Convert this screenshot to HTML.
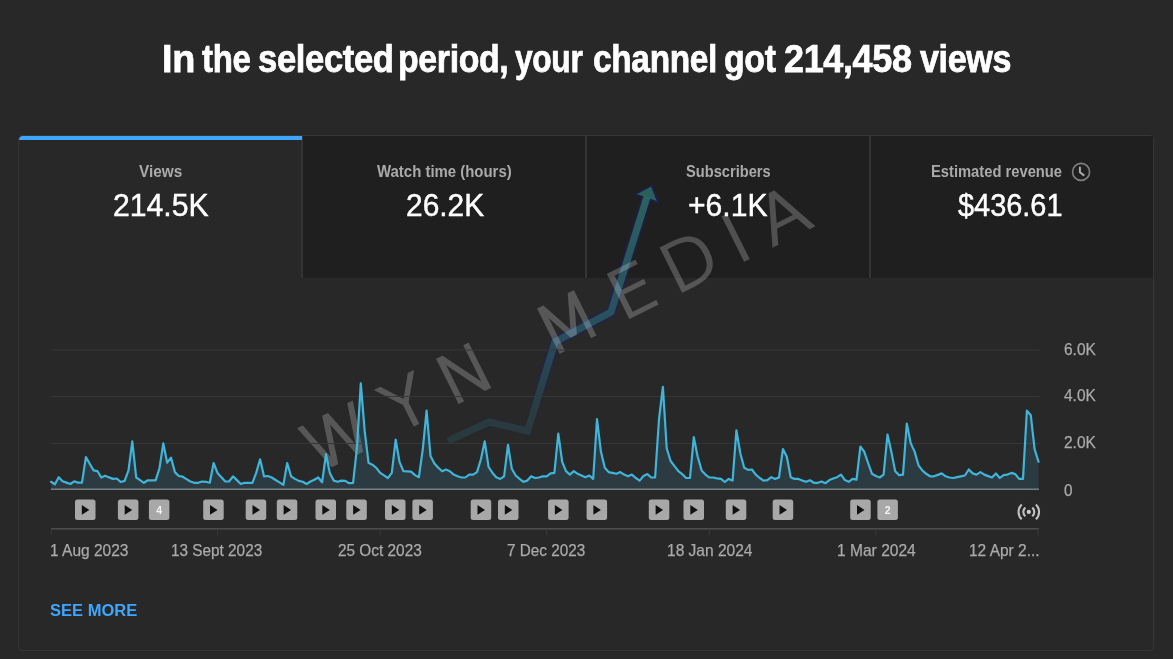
<!DOCTYPE html>
<html lang="en">
<head>
<meta charset="utf-8">
<title>Channel analytics</title>
<style>
html,body{margin:0;padding:0;}
h1{margin:0;padding:0;font-size:inherit;font-weight:inherit;}
body{width:1173px;height:659px;overflow:hidden;background:#282828;font-family:"Liberation Sans",sans-serif;position:relative;}
.card{position:absolute;left:17.8px;top:134.6px;width:1134px;height:514px;border:1.5px solid #363636;border-radius:4px;background:#282828;}
.tab{position:absolute;top:136px;height:142px;background:#1f1f1f;}
.tab.sel{background:#282828;}
.sep{position:absolute;top:136px;width:1.5px;height:142px;background:#343434;}
.bar{position:absolute;left:19px;top:135.5px;width:283px;height:4.3px;background:#3ea6ff;border-top-left-radius:4px;}
.t{position:absolute;white-space:nowrap;line-height:1;transform-origin:0 0;}
svg.chart,svg.wm{position:absolute;left:0;top:0;}
</style>
</head>
<body>
<div class="card"></div>
<div class="tab sel" style="left:19px;width:283px"></div>
<div class="tab" style="left:302px;width:284px"></div>
<div class="tab" style="left:586px;width:284px"></div>
<div class="tab" style="left:870px;width:283px"></div>
<div class="sep" style="left:301.45px"></div>
<div class="sep" style="left:585.4px"></div>
<div class="sep" style="left:869.35px"></div>
<div class="bar"></div>
<svg class="wm" width="1173" height="659" viewBox="0 0 1173 659">
<defs><linearGradient id="gn" gradientUnits="userSpaceOnUse" x1="0" y1="445" x2="0" y2="185"><stop offset="0" stop-color="#1f2258" stop-opacity="0.05"/><stop offset="0.12" stop-color="#1f2258" stop-opacity="0.15"/><stop offset="0.4" stop-color="#1f2258" stop-opacity="0.8"/><stop offset="1" stop-color="#1e1e58" stop-opacity="0.95"/></linearGradient><linearGradient id="gt" gradientUnits="userSpaceOnUse" x1="0" y1="445" x2="0" y2="185"><stop offset="0" stop-color="#2f7076" stop-opacity="0.28"/><stop offset="0.15" stop-color="#2f7074" stop-opacity="0.34"/><stop offset="0.45" stop-color="#2f7272" stop-opacity="0.62"/><stop offset="1" stop-color="#2f7a6c" stop-opacity="0.88"/></linearGradient></defs>
<g fill="none" stroke-linejoin="miter" stroke-linecap="butt" opacity="0.88"><path d="M448 441 L489 422 L527.6 431 L555 342 L611 312 L647 197" stroke="url(#gn)" stroke-width="10"/><path d="M635 194.2 L651.6 185.6 L658.2 202.6 L647.5 198.5 Z" fill="#2b6a60" stroke="#1e1e58" stroke-width="1.6" stroke-linejoin="miter"/><path d="M448 441 L489 422 L527.6 431 L555 342 L611 312 L647 197" stroke="url(#gt)" stroke-width="7"/></g>
<g transform="translate(347.7 458.1) rotate(-26.5)" fill="#fff" stroke="#fff" stroke-width="2.3" stroke-linejoin="miter" opacity="0.22" font-family="DejaVu Sans Light, DejaVu Sans, sans-serif" font-weight="200" font-size="66">
<text transform="scale(1.08 1)" x="0.00 70.65 132.04 184.91 237.78 305.00 363.98 412.50 461.39" y="0" text-anchor="middle" xml:space="preserve">WYN MEDIA</text>
</g></svg>
<svg class="chart" width="1173" height="659" viewBox="0 0 1173 659">
<rect x="51" y="349.5" width="988.5" height="1" fill="#373737"/>
<rect x="51" y="396.0" width="988.5" height="1" fill="#373737"/>
<rect x="51" y="443.0" width="988.5" height="1" fill="#373737"/>
<polygon points="51,489.5 51.0,481.8 54.9,484.3 58.7,477.2 62.6,481.3 66.5,482.6 70.4,484.0 74.2,481.3 78.1,482.6 82.0,482.6 85.9,457.1 89.7,463.8 93.6,470.4 97.5,471.2 101.3,477.5 105.2,475.8 109.1,477.4 113.0,478.9 116.8,478.5 120.7,482.0 124.6,480.9 128.5,470.4 132.3,441.4 136.2,477.5 140.1,480.1 143.9,482.8 147.8,480.3 151.7,480.3 155.6,480.3 159.4,468.7 163.3,443.4 167.2,462.7 171.0,457.6 174.9,472.1 178.8,476.0 182.7,476.7 186.5,479.1 190.4,481.5 194.3,482.8 198.2,482.8 202.0,481.5 205.9,481.8 209.8,482.8 213.6,463.0 217.5,472.9 221.4,477.2 225.3,481.5 229.1,481.5 233.0,476.3 236.9,480.1 240.8,484.0 244.6,482.8 248.5,482.8 252.4,482.8 256.2,472.9 260.1,459.3 264.0,476.3 267.9,476.0 271.7,477.5 275.6,480.0 279.5,482.4 283.4,484.9 287.2,463.0 291.1,476.3 295.0,478.9 298.8,480.9 302.7,481.8 306.6,484.0 310.5,481.5 314.3,479.7 318.2,477.5 322.1,482.3 326.0,454.2 329.8,472.9 333.7,480.6 337.6,481.8 341.4,480.6 345.3,480.9 349.2,483.2 353.1,482.8 356.9,448.2 360.8,383.4 364.7,431.2 368.5,462.7 372.4,464.7 376.3,467.8 380.2,472.9 384.0,475.4 387.9,478.0 391.8,472.9 395.7,439.7 399.5,461.8 403.4,471.2 407.3,471.4 411.1,471.7 415.0,475.1 418.9,477.2 422.8,449.1 426.6,410.7 430.5,455.9 434.4,463.5 438.3,467.8 442.1,471.2 446.0,469.5 449.9,471.2 453.7,474.6 457.6,476.3 461.5,477.5 465.4,477.5 469.2,474.6 473.1,474.6 477.0,472.1 480.9,459.3 484.7,441.4 488.6,467.0 492.5,472.9 496.3,477.2 500.2,478.9 504.1,476.3 508.0,444.8 511.8,468.7 515.7,475.5 519.6,478.9 523.5,481.8 527.3,480.6 531.2,476.3 535.1,478.0 538.9,477.5 542.8,476.3 546.7,476.3 550.6,473.4 554.4,472.9 558.3,433.7 562.2,461.8 566.0,471.2 569.9,474.6 573.8,471.2 577.7,473.8 581.5,475.5 585.4,477.2 589.3,475.5 593.2,478.9 597.0,419.2 600.9,451.6 604.8,467.8 608.6,472.1 612.5,472.9 616.4,473.8 620.3,472.1 624.1,474.6 628.0,476.3 631.9,474.6 635.8,478.0 639.6,480.6 643.5,476.0 647.4,474.1 651.2,477.5 655.1,477.5 659.0,419.2 662.9,386.8 666.7,448.2 670.6,461.0 674.5,466.1 678.4,471.2 682.2,474.1 686.1,478.0 690.0,478.0 693.8,437.1 697.7,456.7 701.6,470.4 705.5,474.6 709.3,477.5 713.2,477.5 717.1,478.4 721.0,478.9 724.8,482.0 728.7,478.9 732.6,480.6 736.4,430.3 740.3,453.3 744.2,467.8 748.1,469.9 751.9,469.5 755.8,474.6 759.7,478.0 763.5,480.6 767.4,480.1 771.3,477.2 775.2,478.9 779.0,477.5 782.9,449.1 786.8,456.7 790.7,477.2 794.5,478.9 798.4,478.9 802.3,480.6 806.1,481.8 810.0,480.3 813.9,482.8 817.8,482.8 821.6,481.5 825.5,483.2 829.4,480.1 833.3,478.5 837.1,477.2 841.0,474.6 844.9,480.1 848.7,481.8 852.6,478.9 856.5,479.7 860.4,446.5 864.2,451.6 868.1,463.0 872.0,473.8 875.9,476.0 879.7,477.5 883.6,474.6 887.5,434.6 891.3,451.6 895.2,471.2 899.1,475.1 903.0,474.6 906.8,423.5 910.7,443.1 914.6,451.6 918.5,465.3 922.3,470.4 926.2,473.8 930.1,476.3 933.9,476.3 937.8,474.9 941.7,473.4 945.6,476.3 949.4,477.5 953.3,478.0 957.2,477.1 961.0,476.3 964.9,475.5 968.8,469.5 972.7,473.4 976.5,474.6 980.4,472.1 984.3,474.6 988.2,476.1 992.0,477.5 995.9,473.4 999.8,478.0 1003.6,475.1 1007.5,474.6 1011.4,472.9 1015.3,474.1 1019.1,478.9 1023.0,478.9 1026.9,410.7 1030.8,415.3 1034.6,449.1 1038.5,461.8 1038.5,489.5" fill="#41b4d9" fill-opacity="0.14"/>
<polyline points="51.0,481.8 54.9,484.3 58.7,477.2 62.6,481.3 66.5,482.6 70.4,484.0 74.2,481.3 78.1,482.6 82.0,482.6 85.9,457.1 89.7,463.8 93.6,470.4 97.5,471.2 101.3,477.5 105.2,475.8 109.1,477.4 113.0,478.9 116.8,478.5 120.7,482.0 124.6,480.9 128.5,470.4 132.3,441.4 136.2,477.5 140.1,480.1 143.9,482.8 147.8,480.3 151.7,480.3 155.6,480.3 159.4,468.7 163.3,443.4 167.2,462.7 171.0,457.6 174.9,472.1 178.8,476.0 182.7,476.7 186.5,479.1 190.4,481.5 194.3,482.8 198.2,482.8 202.0,481.5 205.9,481.8 209.8,482.8 213.6,463.0 217.5,472.9 221.4,477.2 225.3,481.5 229.1,481.5 233.0,476.3 236.9,480.1 240.8,484.0 244.6,482.8 248.5,482.8 252.4,482.8 256.2,472.9 260.1,459.3 264.0,476.3 267.9,476.0 271.7,477.5 275.6,480.0 279.5,482.4 283.4,484.9 287.2,463.0 291.1,476.3 295.0,478.9 298.8,480.9 302.7,481.8 306.6,484.0 310.5,481.5 314.3,479.7 318.2,477.5 322.1,482.3 326.0,454.2 329.8,472.9 333.7,480.6 337.6,481.8 341.4,480.6 345.3,480.9 349.2,483.2 353.1,482.8 356.9,448.2 360.8,383.4 364.7,431.2 368.5,462.7 372.4,464.7 376.3,467.8 380.2,472.9 384.0,475.4 387.9,478.0 391.8,472.9 395.7,439.7 399.5,461.8 403.4,471.2 407.3,471.4 411.1,471.7 415.0,475.1 418.9,477.2 422.8,449.1 426.6,410.7 430.5,455.9 434.4,463.5 438.3,467.8 442.1,471.2 446.0,469.5 449.9,471.2 453.7,474.6 457.6,476.3 461.5,477.5 465.4,477.5 469.2,474.6 473.1,474.6 477.0,472.1 480.9,459.3 484.7,441.4 488.6,467.0 492.5,472.9 496.3,477.2 500.2,478.9 504.1,476.3 508.0,444.8 511.8,468.7 515.7,475.5 519.6,478.9 523.5,481.8 527.3,480.6 531.2,476.3 535.1,478.0 538.9,477.5 542.8,476.3 546.7,476.3 550.6,473.4 554.4,472.9 558.3,433.7 562.2,461.8 566.0,471.2 569.9,474.6 573.8,471.2 577.7,473.8 581.5,475.5 585.4,477.2 589.3,475.5 593.2,478.9 597.0,419.2 600.9,451.6 604.8,467.8 608.6,472.1 612.5,472.9 616.4,473.8 620.3,472.1 624.1,474.6 628.0,476.3 631.9,474.6 635.8,478.0 639.6,480.6 643.5,476.0 647.4,474.1 651.2,477.5 655.1,477.5 659.0,419.2 662.9,386.8 666.7,448.2 670.6,461.0 674.5,466.1 678.4,471.2 682.2,474.1 686.1,478.0 690.0,478.0 693.8,437.1 697.7,456.7 701.6,470.4 705.5,474.6 709.3,477.5 713.2,477.5 717.1,478.4 721.0,478.9 724.8,482.0 728.7,478.9 732.6,480.6 736.4,430.3 740.3,453.3 744.2,467.8 748.1,469.9 751.9,469.5 755.8,474.6 759.7,478.0 763.5,480.6 767.4,480.1 771.3,477.2 775.2,478.9 779.0,477.5 782.9,449.1 786.8,456.7 790.7,477.2 794.5,478.9 798.4,478.9 802.3,480.6 806.1,481.8 810.0,480.3 813.9,482.8 817.8,482.8 821.6,481.5 825.5,483.2 829.4,480.1 833.3,478.5 837.1,477.2 841.0,474.6 844.9,480.1 848.7,481.8 852.6,478.9 856.5,479.7 860.4,446.5 864.2,451.6 868.1,463.0 872.0,473.8 875.9,476.0 879.7,477.5 883.6,474.6 887.5,434.6 891.3,451.6 895.2,471.2 899.1,475.1 903.0,474.6 906.8,423.5 910.7,443.1 914.6,451.6 918.5,465.3 922.3,470.4 926.2,473.8 930.1,476.3 933.9,476.3 937.8,474.9 941.7,473.4 945.6,476.3 949.4,477.5 953.3,478.0 957.2,477.1 961.0,476.3 964.9,475.5 968.8,469.5 972.7,473.4 976.5,474.6 980.4,472.1 984.3,474.6 988.2,476.1 992.0,477.5 995.9,473.4 999.8,478.0 1003.6,475.1 1007.5,474.6 1011.4,472.9 1015.3,474.1 1019.1,478.9 1023.0,478.9 1026.9,410.7 1030.8,415.3 1034.6,449.1 1038.5,461.8" fill="none" stroke="#41b4d9" stroke-width="2.2" stroke-linejoin="round" stroke-linecap="round"/>
<rect x="51" y="488.6" width="988" height="1.2" fill="#8c9599"/>
<rect x="51" y="528" width="988" height="1.6" fill="#4d4d4d"/>
<rect x="50.5" y="529" width="1" height="6.5" fill="#383838"/>
<rect x="217.0" y="529" width="1" height="6.5" fill="#383838"/>
<rect x="379.7" y="529" width="1" height="6.5" fill="#383838"/>
<rect x="546.2" y="529" width="1" height="6.5" fill="#383838"/>
<rect x="708.8" y="529" width="1" height="6.5" fill="#383838"/>
<rect x="875.3" y="529" width="1" height="6.5" fill="#383838"/>
<rect x="1037.5" y="529" width="1" height="6.5" fill="#383838"/>
<rect x="75.0" y="499.5" width="20.5" height="20.5" rx="2.5" fill="#a8a8a8"/>
<path d="M81.8 505 L89.3 509.9 L81.8 514.8 Z" fill="#111"/>
<rect x="117.9" y="499.5" width="20.5" height="20.5" rx="2.5" fill="#a8a8a8"/>
<path d="M124.7 505 L132.2 509.9 L124.7 514.8 Z" fill="#111"/>
<rect x="203.2" y="499.5" width="20.5" height="20.5" rx="2.5" fill="#a8a8a8"/>
<path d="M210.0 505 L217.5 509.9 L210.0 514.8 Z" fill="#111"/>
<rect x="245.7" y="499.5" width="20.5" height="20.5" rx="2.5" fill="#a8a8a8"/>
<path d="M252.5 505 L260.0 509.9 L252.5 514.8 Z" fill="#111"/>
<rect x="276.8" y="499.5" width="20.5" height="20.5" rx="2.5" fill="#a8a8a8"/>
<path d="M283.6 505 L291.1 509.9 L283.6 514.8 Z" fill="#111"/>
<rect x="315.5" y="499.5" width="20.5" height="20.5" rx="2.5" fill="#a8a8a8"/>
<path d="M322.3 505 L329.8 509.9 L322.3 514.8 Z" fill="#111"/>
<rect x="346.3" y="499.5" width="20.5" height="20.5" rx="2.5" fill="#a8a8a8"/>
<path d="M353.1 505 L360.6 509.9 L353.1 514.8 Z" fill="#111"/>
<rect x="385" y="499.5" width="20.5" height="20.5" rx="2.5" fill="#a8a8a8"/>
<path d="M391.8 505 L399.3 509.9 L391.8 514.8 Z" fill="#111"/>
<rect x="412.4" y="499.5" width="20.5" height="20.5" rx="2.5" fill="#a8a8a8"/>
<path d="M419.2 505 L426.7 509.9 L419.2 514.8 Z" fill="#111"/>
<rect x="470.7" y="499.5" width="20.5" height="20.5" rx="2.5" fill="#a8a8a8"/>
<path d="M477.5 505 L485.0 509.9 L477.5 514.8 Z" fill="#111"/>
<rect x="498" y="499.5" width="20.5" height="20.5" rx="2.5" fill="#a8a8a8"/>
<path d="M504.8 505 L512.3 509.9 L504.8 514.8 Z" fill="#111"/>
<rect x="548.1" y="499.5" width="20.5" height="20.5" rx="2.5" fill="#a8a8a8"/>
<path d="M554.9 505 L562.4 509.9 L554.9 514.8 Z" fill="#111"/>
<rect x="586.6" y="499.5" width="20.5" height="20.5" rx="2.5" fill="#a8a8a8"/>
<path d="M593.4 505 L600.9 509.9 L593.4 514.8 Z" fill="#111"/>
<rect x="648.8" y="499.5" width="20.5" height="20.5" rx="2.5" fill="#a8a8a8"/>
<path d="M655.6 505 L663.1 509.9 L655.6 514.8 Z" fill="#111"/>
<rect x="683.5" y="499.5" width="20.5" height="20.5" rx="2.5" fill="#a8a8a8"/>
<path d="M690.3 505 L697.8 509.9 L690.3 514.8 Z" fill="#111"/>
<rect x="725.8" y="499.5" width="20.5" height="20.5" rx="2.5" fill="#a8a8a8"/>
<path d="M732.6 505 L740.1 509.9 L732.6 514.8 Z" fill="#111"/>
<rect x="772.7" y="499.5" width="20.5" height="20.5" rx="2.5" fill="#a8a8a8"/>
<path d="M779.5 505 L787.0 509.9 L779.5 514.8 Z" fill="#111"/>
<rect x="850.2" y="499.5" width="20.5" height="20.5" rx="2.5" fill="#a8a8a8"/>
<path d="M857.0 505 L864.5 509.9 L857.0 514.8 Z" fill="#111"/>
<rect x="148.9" y="499.5" width="20.5" height="20.5" rx="2.5" fill="#a8a8a8"/>
<text x="159.2" y="513.6" text-anchor="middle" font-family="Liberation Sans, sans-serif" font-weight="700" font-size="10.5" fill="#f4f4f4">4</text>
<rect x="877.4" y="499.5" width="20.5" height="20.5" rx="2.5" fill="#a8a8a8"/>
<text x="887.7" y="513.6" text-anchor="middle" font-family="Liberation Sans, sans-serif" font-weight="700" font-size="10.5" fill="#f4f4f4">2</text>
<g fill="none" stroke="#c2c2c2" stroke-width="2.1" stroke-linecap="butt"><path d="M1025.40 507.60 A5.5 5.5 0 0 0 1025.40 516.20"/><path d="M1032.20 507.60 A5.5 5.5 0 0 1 1032.20 516.20"/><path d="M1021.70 504.50 A10.25 10.25 0 0 0 1021.70 519.30"/><path d="M1035.90 504.50 A10.25 10.25 0 0 1 1035.90 519.30"/></g><circle cx="1028.8" cy="511.9" r="2.1" fill="#cfcfcf"/>
<g fill="none" stroke-linecap="round" stroke-linejoin="round"><circle cx="1081.1" cy="171.9" r="8.5" stroke="#808080" stroke-width="1.6"/><path d="M1079.9 167.4 V172.3 L1083.6 175.1" stroke="#ababab" stroke-width="2"/></g>
</svg>
<h1><span class="t" id="t1" style="left:162.3px;top:39.61px;font-size:38.4px;font-weight:700;color:#fff;letter-spacing:-0.4px;transform:scaleX(0.9865);-webkit-text-stroke:0.75px #fff;">In</span>
<span class="t" id="t2" style="left:202.22px;top:39.61px;font-size:38.4px;font-weight:700;color:#fff;letter-spacing:-0.4px;transform:scaleX(0.8598);-webkit-text-stroke:0.75px #fff;">the</span>
<span class="t" id="t3" style="left:257.85px;top:39.61px;font-size:38.4px;font-weight:700;color:#fff;letter-spacing:-0.4px;transform:scaleX(0.9011);-webkit-text-stroke:0.75px #fff;">selected</span>
<span class="t" id="t4" style="left:398.47px;top:39.61px;font-size:38.4px;font-weight:700;color:#fff;letter-spacing:-0.4px;transform:scaleX(0.8822);-webkit-text-stroke:0.75px #fff;">period,</span>
<span class="t" id="t5" style="left:515.35px;top:39.61px;font-size:38.4px;font-weight:700;color:#fff;letter-spacing:-0.4px;transform:scaleX(0.8259);-webkit-text-stroke:0.75px #fff;">your</span>
<span class="t" id="t6" style="left:592.86px;top:39.61px;font-size:38.4px;font-weight:700;color:#fff;letter-spacing:-0.4px;transform:scaleX(0.8721);-webkit-text-stroke:0.75px #fff;">channel</span>
<span class="t" id="t7" style="left:724.23px;top:39.61px;font-size:38.4px;font-weight:700;color:#fff;letter-spacing:-0.4px;transform:scaleX(0.8821);-webkit-text-stroke:0.75px #fff;">got</span>
<span class="t" id="t8" style="left:784.36px;top:39.61px;font-size:38.4px;font-weight:700;color:#fff;letter-spacing:-0.4px;transform:scaleX(0.938);-webkit-text-stroke:0.75px #fff;">214,458</span>
<span class="t" id="t9" style="left:919.59px;top:39.61px;font-size:38.4px;font-weight:700;color:#fff;letter-spacing:-0.4px;transform:scaleX(0.8879);-webkit-text-stroke:0.75px #fff;">views</span></h1>
<div class="t" id="l1" style="left:139.41px;top:163.51px;font-size:16px;font-weight:700;color:#aaa;letter-spacing:0px;transform:scaleX(0.9576);">Views</div>
<div class="t" id="v1" style="left:112.98px;top:189.84px;font-size:31.5px;font-weight:400;color:#fff;letter-spacing:0px;transform:scaleX(0.9583);-webkit-text-stroke:0.45px #fff;">214.5K</div>
<div class="t" id="l2" style="left:377.45px;top:163.51px;font-size:16px;font-weight:700;color:#aaa;letter-spacing:0px;transform:scaleX(0.9335);">Watch time (hours)</div>
<div class="t" id="v2" style="left:406.09px;top:189.84px;font-size:31.5px;font-weight:400;color:#fff;letter-spacing:0px;transform:scaleX(0.9494);-webkit-text-stroke:0.45px #fff;">26.2K</div>
<div class="t" id="l3" style="left:685.78px;top:163.51px;font-size:16px;font-weight:700;color:#aaa;letter-spacing:0px;transform:scaleX(0.9155);">Subscribers</div>
<div class="t" id="v3" style="left:688.44px;top:189.84px;font-size:31.5px;font-weight:400;color:#fff;letter-spacing:0px;transform:scaleX(0.955);-webkit-text-stroke:0.45px #fff;">+6.1K</div>
<div class="t" id="l4" style="left:930.51px;top:163.51px;font-size:16px;font-weight:700;color:#aaa;letter-spacing:0px;transform:scaleX(0.9209);">Estimated revenue</div>
<div class="t" id="v4" style="left:958.4px;top:189.84px;font-size:31.5px;font-weight:400;color:#fff;letter-spacing:0px;transform:scaleX(0.9176);-webkit-text-stroke:0.45px #fff;">$436.61</div>
<div class="t" id="y1" style="left:1063.98px;top:340.8px;font-size:16.5px;font-weight:400;color:#aaa;letter-spacing:0px;transform:scaleX(0.9397);-webkit-text-stroke:0.25px #aaa;">6.0K</div>
<div class="t" id="y2" style="left:1064.38px;top:387.3px;font-size:16.5px;font-weight:400;color:#aaa;letter-spacing:0px;transform:scaleX(0.9362);-webkit-text-stroke:0.25px #aaa;">4.0K</div>
<div class="t" id="y3" style="left:1063.76px;top:433.8px;font-size:16.5px;font-weight:400;color:#aaa;letter-spacing:0px;transform:scaleX(0.9378);-webkit-text-stroke:0.25px #aaa;">2.0K</div>
<div class="t" id="y4" style="left:1063.68px;top:481.5px;font-size:16.5px;font-weight:400;color:#aaa;letter-spacing:0px;transform:scaleX(0.93);-webkit-text-stroke:0.25px #aaa;">0</div>
<div class="t" id="x1" style="left:50.41px;top:542.1px;font-size:16.5px;font-weight:400;color:#aaa;letter-spacing:0px;transform:scaleX(0.939);-webkit-text-stroke:0.25px #aaa;">1 Aug 2023</div>
<div class="t" id="x2" style="left:171.34px;top:542.1px;font-size:16.5px;font-weight:400;color:#aaa;letter-spacing:0px;transform:scaleX(0.9289);-webkit-text-stroke:0.25px #aaa;">13 Sept 2023</div>
<div class="t" id="x3" style="left:337.96px;top:542.1px;font-size:16.5px;font-weight:400;color:#aaa;letter-spacing:0px;transform:scaleX(0.9313);-webkit-text-stroke:0.25px #aaa;">25 Oct 2023</div>
<div class="t" id="x4" style="left:507.17px;top:542.1px;font-size:16.5px;font-weight:400;color:#aaa;letter-spacing:0px;transform:scaleX(0.9265);-webkit-text-stroke:0.25px #aaa;">7 Dec 2023</div>
<div class="t" id="x5" style="left:666.79px;top:542.1px;font-size:16.5px;font-weight:400;color:#aaa;letter-spacing:0px;transform:scaleX(0.9411);-webkit-text-stroke:0.25px #aaa;">18 Jan 2024</div>
<div class="t" id="x6" style="left:836.61px;top:542.1px;font-size:16.5px;font-weight:400;color:#aaa;letter-spacing:0px;transform:scaleX(0.9437);-webkit-text-stroke:0.25px #aaa;">1 Mar 2024</div>
<div class="t" id="x7" style="left:968.9px;top:542.1px;font-size:16.5px;font-weight:400;color:#aaa;letter-spacing:0px;transform:scaleX(0.9387);-webkit-text-stroke:0.25px #aaa;">12 Apr 2...</div>
<div class="t" id="more" style="left:49.72px;top:601.92px;font-size:17.2px;font-weight:700;color:#3ea6ff;letter-spacing:0px;transform:scaleX(0.9611);">SEE MORE</div>
</body>
</html>
